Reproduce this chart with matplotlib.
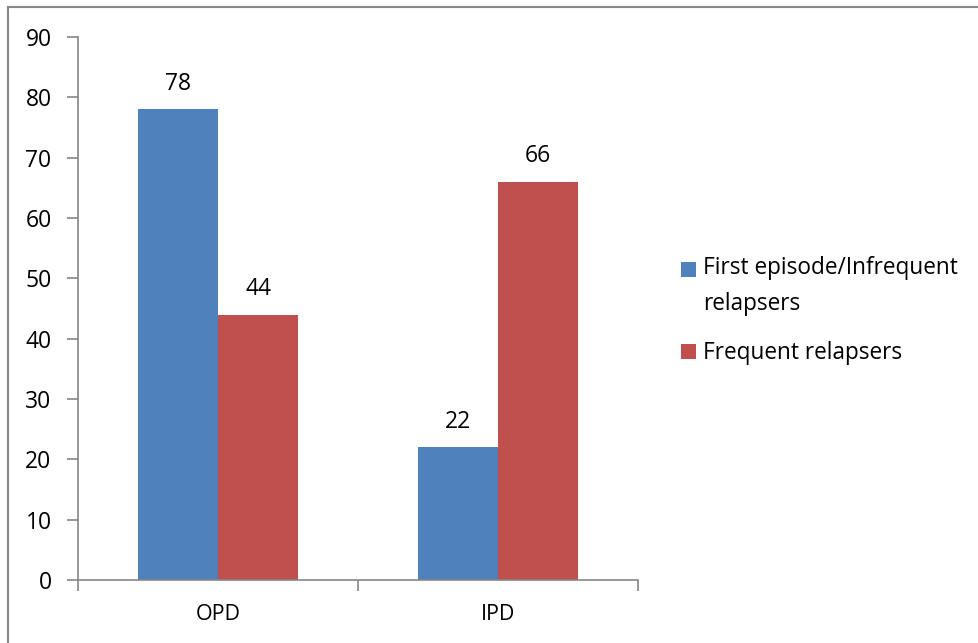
import matplotlib
matplotlib.use("Agg")
import matplotlib.pyplot as plt
from matplotlib.lines import Line2D
from matplotlib.patches import Rectangle
import numpy as np

categories = ["OPD", "IPD"]
series_names = ["First episode/Infrequent\nrelapsers", "Frequent relapsers"]
first_episode = [78, 22]
frequent = [44, 66]
yticks = [0, 10, 20, 30, 40, 50, 60, 70, 80, 90]

colors = ["#4F81BD", "#C0504D"]
plt.rcParams['font.family'] = ['Open Sans', 'DejaVu Sans']

W, H = 979, 643
fig = plt.figure(figsize=(W / 100, H / 100), dpi=100)
ax = fig.add_axes([78 / W, 1 - 580 / H, (638 - 78) / W, (580 - 37) / H])

x = np.arange(len(categories))
bw = 80 / 280
b1 = ax.bar(x - bw / 2, first_episode, bw, color=colors[0], label=series_names[0])
b2 = ax.bar(x + bw / 2, frequent, bw, color=colors[1], label=series_names[1])
for bars in (b1, b2):
    for r in bars:
        ax.annotate(f"{r.get_height():g}", (r.get_x() + r.get_width() / 2, r.get_height()),
                    xytext=(0, 18.5), textcoords="offset points", ha="center", va="center",
                    fontsize=16.5)

ax.set_xlim(-0.5, len(categories) - 0.5)
ax.set_ylim(0, 90)
ax.set_yticks(yticks)
ax.set_xticks(np.arange(-0.5, len(categories)), labels=[""] * (len(categories) + 1))
ax.set_xticks(x, labels=categories, minor=True)
ax.tick_params(axis="x", which="minor", length=0, pad=17, labelsize=15.5)
ax.tick_params(axis="x", which="major", length=8, width=1.2, color="#868686", direction="out")
ax.tick_params(axis="y", length=8, width=1.2, color="#868686", labelsize=16.5, pad=11)

for s in ("top", "right"):
    ax.spines[s].set_visible(False)
for s in ("left", "bottom"):
    ax.spines[s].set_color("#868686")
    ax.spines[s].set_linewidth(1.2)

# manual legend (Excel style: marker aligned with first text line)
leg_marker_tops = [262, 344]
leg_last_baselines = [310, 359]
for name, col, ytop, ybase in zip(series_names, colors, leg_marker_tops, leg_last_baselines):
    fig.add_artist(Rectangle((681 / W, 1 - (ytop + 15) / H), 15 / W, 15 / H,
                             facecolor=col, edgecolor="none", transform=fig.transFigure))
    fig.text(703 / W, 1 - ybase / H, name, ha="left", va="baseline",
             fontsize=16.3, linespacing=1.68)

fig.add_artist(Line2D([8 / W, 1], [1 - 7 / H, 1 - 7 / H], color="#888888", lw=1.5,
                      transform=fig.transFigure))
fig.add_artist(Line2D([8 / W, 8 / W], [0, 1 - 7 / H], color="#888888", lw=1.5,
                      transform=fig.transFigure))

fig.savefig("out.png", dpi=100)
